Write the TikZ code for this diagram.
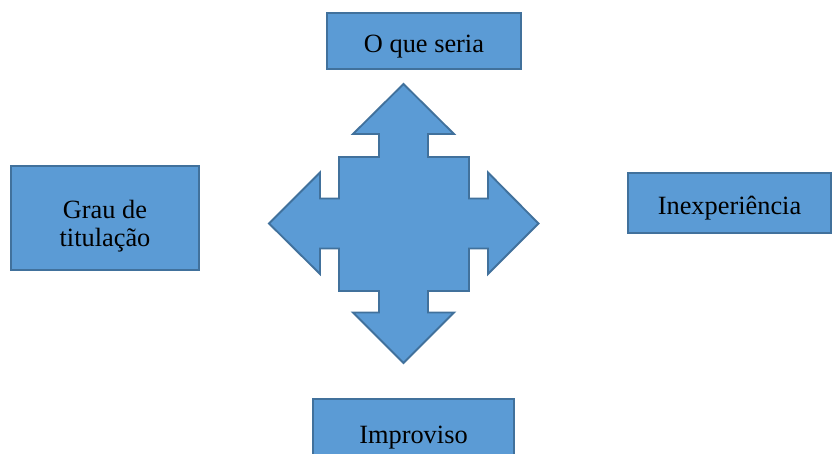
\documentclass[tikz,border=0pt]{standalone}
\usepackage{fontspec}
\setmainfont{Liberation Serif}
\usepackage{tikz}

\definecolor{boxfill}{HTML}{5B9BD5}
\definecolor{boxline}{HTML}{41719C}

\tikzset{
    causebox/.style={draw=boxline, fill=boxfill, line width=1.6pt,
                     align=center, inner sep=0pt,
                     text height=24pt, text depth=5pt,
                     font=\fontsize{22.5}{24}\selectfont},
}

\begin{document}
\begin{tikzpicture}[x=0.03cm, y=-0.03cm]
    % Area del disegno (pixel del riferimento)
    \useasboundingbox (0,0) rectangle (832,454);

    % Freccia a quattro punte al centro
    \draw[boxline, fill=boxfill, line width=1.6pt, line join=miter]
        (403.5,84) -- (454,134) -- (428,134) -- (428,157) -- (469,157)
        -- (469,198.5) -- (488,198.5) -- (488,172.5) -- (538.5,223.5)
        -- (488,274) -- (488,248.5) -- (469,248.5) -- (469,291)
        -- (428,291) -- (428,312.5) -- (454,312.5) -- (403.5,363)
        -- (353,312.5) -- (379,312.5) -- (379,291) -- (339,291)
        -- (339,248.5) -- (320,248.5) -- (320,274) -- (269,223.5)
        -- (320,172.5) -- (320,198.5) -- (339,198.5) -- (339,157)
        -- (379,157) -- (379,134) -- (353,134) -- cycle;

    % Caselle attorno
    \node[causebox, minimum width=5.82cm, minimum height=1.68cm] (top) at (424,41) {O que seria};
    \node[causebox, text height=54pt, minimum width=5.64cm, minimum height=3.12cm] (left) at (105,218) {Grau de\\titulação};
    \node[causebox, minimum width=6.09cm, minimum height=1.8cm] (right) at (729.5,203) {Inexperiência};
    \node[causebox, minimum width=6.03cm, minimum height=1.98cm] (bottom) at (413.5,432) {Improviso};

\end{tikzpicture}
\end{document}
